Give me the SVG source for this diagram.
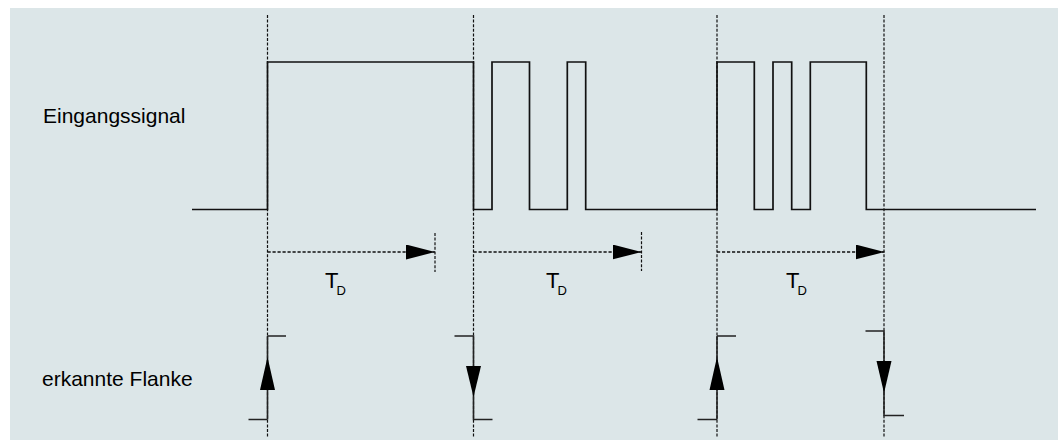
<svg xmlns="http://www.w3.org/2000/svg" width="1058" height="441" viewBox="0 0 1058 441">
  <style>
    .bg { fill: #dce6e8; }
    .sig { fill: none; stroke: #111; stroke-width: 1.7; stroke-linejoin: miter; }
    .guide { fill: none; stroke: #111; stroke-width: 1.2; stroke-dasharray: 3 1.6; }
    .dim { fill: none; stroke: #111; stroke-width: 1.3; stroke-dasharray: 3.2 1.8; }
    .solid { fill: none; stroke: #222; stroke-width: 1.6; }
    .head { fill: #000; stroke: none; }
    .lbl { font-family: "Liberation Sans", Arial, Helvetica, sans-serif; fill: #000; }
  </style>
  <defs>
    <marker id="arr" viewBox="0 0 29 15" refX="29" refY="7.5" markerWidth="29" markerHeight="15" markerUnits="userSpaceOnUse" orient="auto">
      <path d="M0,0 L29,7.5 L0,15 Z" fill="#000"/>
    </marker>
  </defs>

  <rect class="bg" x="10" y="8" width="1048" height="432"/>

  <g id="labels">
    <text class="lbl" x="43" y="122.5" font-size="21">Eingangssignal</text>
    <text class="lbl" x="42" y="386" font-size="21">erkannte Flanke</text>
  </g>

  <g id="guides">
    <line class="guide" x1="267.5" y1="15" x2="267.5" y2="438"/>
    <line class="guide" x1="473.5" y1="15" x2="473.5" y2="438"/>
    <line class="guide" x1="717" y1="15" x2="717" y2="438"/>
    <line class="guide" x1="884" y1="15" x2="884" y2="438"/>
  </g>

  <g id="signal">
    <path class="sig" d="M192,209.5 H267.5 V62 H473.5 V209.5 H492 V62 H529.5 V209.5 H567.3 V62 H585.7 V209.5 H717 V62 H754.3 V209.5 H773 V62 H791.7 V209.5 H810.3 V62 H866.3 V209.5 H1036"/>
  </g>

  <g id="connectors">
    <g id="delay1">
      <line class="dim" x1="267.5" y1="252" x2="435" y2="252" marker-end="url(#arr)"/>
      <line class="guide" x1="435" y1="233" x2="435" y2="272"/>
      <text class="lbl" x="325" y="288" font-size="22">T</text>
      <text class="lbl" x="336.5" y="294.5" font-size="13">D</text>
    </g>
    <g id="delay2">
      <line class="dim" x1="473.5" y1="252" x2="641.5" y2="252" marker-end="url(#arr)"/>
      <line class="guide" x1="641.5" y1="232" x2="641.5" y2="271"/>
      <text class="lbl" x="546" y="288" font-size="22">T</text>
      <text class="lbl" x="557.5" y="294.5" font-size="13">D</text>
    </g>
    <g id="delay3">
      <line class="dim" x1="717" y1="252" x2="884.5" y2="252" marker-end="url(#arr)"/>
      <text class="lbl" x="786" y="288" font-size="22">T</text>
      <text class="lbl" x="797.5" y="294.5" font-size="13">D</text>
    </g>
  </g>

  <g id="edge1">
    <path class="solid" d="M267.5,336 H286 M267.5,336 V419.5 M248.5,419.5 H267.5"/>
    <polygon class="head" points="267.5,357 260,390 275,390"/>
  </g>
  <g id="edge2">
    <path class="solid" d="M454.5,336 H473.5 V419.5 H492.5"/>
    <polygon class="head" points="466,366 481,366 473.5,397"/>
  </g>
  <g id="edge3">
    <path class="solid" d="M717,336 H736 M717,336 V419.5 M697.5,419.5 H717"/>
    <polygon class="head" points="717,357 709.5,390 724.5,390"/>
  </g>
  <g id="edge4">
    <path class="solid" d="M865.5,331 H884 V415.5 H904"/>
    <polygon class="head" points="876.5,361 891.5,361 884,393"/>
  </g>
</svg>
